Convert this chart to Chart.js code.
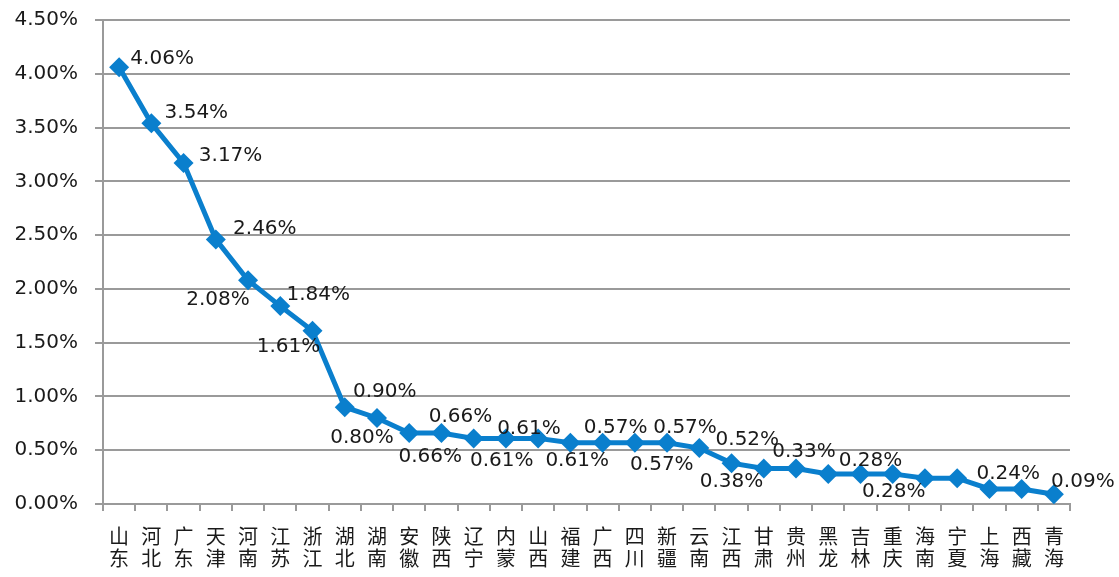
<!DOCTYPE html>
<html>
<head>
<meta charset="utf-8">
<script src="https://cdn.jsdelivr.net/npm/chart.js@4/dist/chart.umd.min.js"></script>
<style>
  html, body { margin: 0; padding: 0; background: #fff; }
</style>
</head>
<body>
<canvas id="lineChart" width="1119" height="577"></canvas>
<script>
// provinces, sorted by share (the chart shows two characters per name)
var provinces = ['山东', '河北', '广东', '天津', '河南', '江苏', '浙江', '湖北', '湖南', '安徽',
                 '陕西', '辽宁', '内蒙', '山西', '福建', '广西', '四川', '新疆', '云南', '江西',
                 '甘肃', '贵州', '黑龙', '吉林', '重庆', '海南', '宁夏', '上海', '西藏', '青海'];
// share in percent
var shares = [4.06, 3.54, 3.17, 2.46, 2.08, 1.84, 1.61, 0.90, 0.80, 0.66,
              0.66, 0.61, 0.61, 0.61, 0.57, 0.57, 0.57, 0.57, 0.52, 0.38,
              0.33, 0.33, 0.28, 0.28, 0.28, 0.24, 0.24, 0.14, 0.14, 0.09];
var yMin = 0, yMax = 4.5, yStep = 0.5;

// where each value label sits relative to its point (null = no label)
var labelOffsets = [[43, -9], [45, -10], [47, -7], [49, -11], [-30, 20], [38, -11], [-24, 16], [40, -15], [-15, 20], [21, 24],
                    [19, -16], [28, 22], [23, -10], [39, 22], null, [13, -15], [27, 22], [18, -15], [48, -8], [0, 19],
                    null, [8, -17], null, [10, -13], [1, 18], null, [51, -4], null, null, [29, -13]];

var lineBlue = '#0a7fcd';
var gridGrey = '#9a9a9a';
var txtFont = '"DejaVu Sans", sans-serif';

var valueLabels = {
    id: 'valueLabels',
    afterDatasetsDraw: function(chart) {
        var ctx = chart.ctx;
        var meta = chart.getDatasetMeta(0);
        ctx.save();
        ctx.font = '20px ' + txtFont;
        ctx.fillStyle = '#1a1a1a';
        ctx.textAlign = 'center';
        ctx.textBaseline = 'middle';
        meta.data.forEach(function(pt, i) {
            var off = labelOffsets[i];
            if (!off) return;
            ctx.fillText(shares[i].toFixed(2) + '%', pt.x + off[0], pt.y + off[1]);
        });
        ctx.restore();
    }
};

var ctx = document.getElementById('lineChart');
var lineChart = new Chart(ctx, {
    type: 'line',
    data: {
        labels: provinces.map(function(p) { return p.split(''); }),
        datasets: [{
            data: shares,
            borderColor: lineBlue,
            backgroundColor: lineBlue,
            borderWidth: 5,
            pointStyle: 'rectRot',
            pointRadius: 10,
            pointHoverRadius: 10,
            pointBorderWidth: 0,
            tension: 0,
            fill: false
        }]
    },
    options: {
        responsive: false,
        animation: false,
        layout: { padding: { top: 20, right: 49, left: 0, bottom: 0 } },
        plugins: {
            legend: { display: false },
            tooltip: { enabled: false }
        },
        scales: {
            x: {
                offset: true,
                grid: {
                    offset: true,
                    drawOnChartArea: false,
                    drawTicks: true,
                    tickLength: 7,
                    color: gridGrey,
                    lineWidth: 2
                },
                border: { display: true, color: gridGrey, width: 2 },
                ticks: {
                    autoSkip: false,
                    maxRotation: 0,
                    padding: 14,
                    color: '#1a1a1a',
                    font: { family: '"Noto Sans CJK SC", sans-serif', size: 20, lineHeight: 1.1 }
                },
                afterFit: function(scale) { scale.height = 73; }
            },
            y: {
                min: yMin,
                max: yMax,
                grid: {
                    color: gridGrey,
                    lineWidth: 2,
                    drawTicks: true,
                    tickLength: 8
                },
                border: { display: true, color: gridGrey, width: 2 },
                ticks: {
                    stepSize: yStep,
                    padding: 17,
                    color: '#1a1a1a',
                    font: { family: txtFont, size: 20 },
                    callback: function(v) { return v.toFixed(2) + '%'; }
                },
                afterFit: function(scale) {
                    scale.width = 103;
                    // the tick padding is only meant to push labels left, not down
                    scale.paddingTop = 0;
                }
            }
        }
    },
    plugins: [valueLabels]
});
</script>
</body>
</html>
